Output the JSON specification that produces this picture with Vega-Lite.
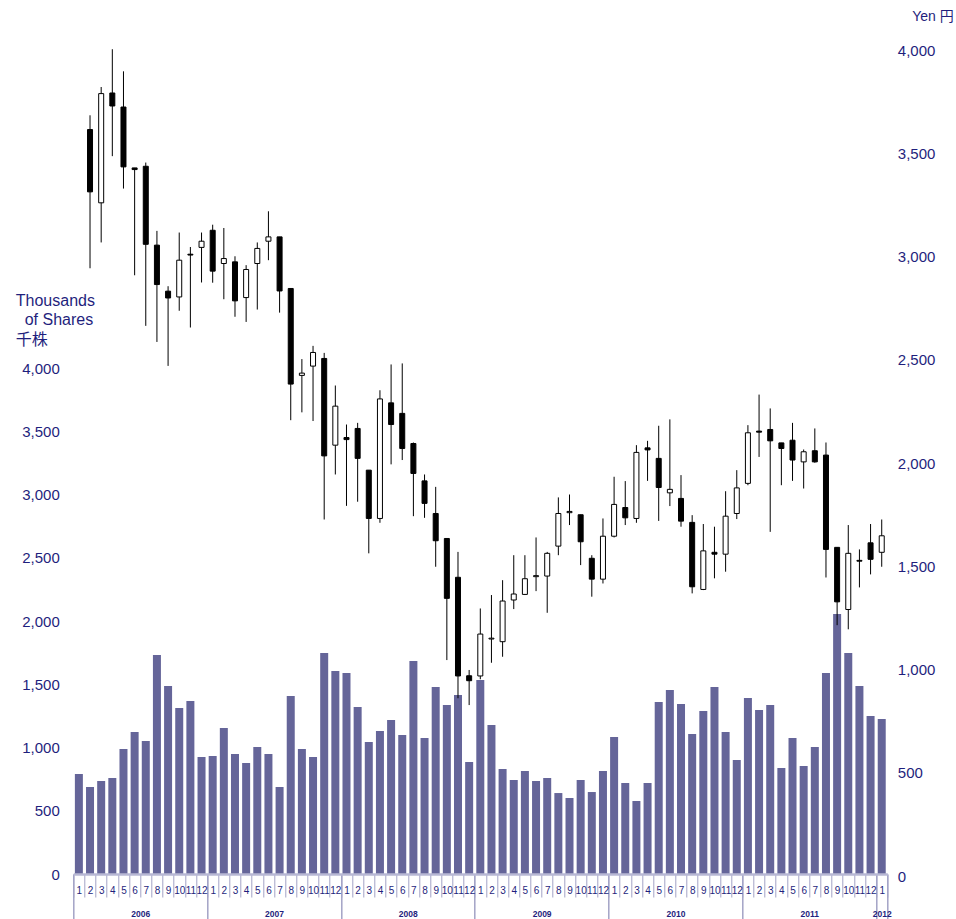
{
  "$schema": "https://vega.github.io/schema/vega-lite/v6.json",
  "width": 814,
  "height": 834,
  "autosize": {"type": "none"},
  "padding": {"left": 73.3, "top": 40, "right": 68.7, "bottom": 45},
  "background": "white",
  "config": {
    "view": {"stroke": null},
    "font": "Liberation Sans, Noto Sans CJK JP",
    "axis": {"grid": false}
  },
  "datasets": {
    "monthly": [
      {"month": "2006-01", "volume": 790},
      {"month": "2006-02", "volume": 688, "open": 3616, "high": 3685, "low": 2944, "close": 3314},
      {"month": "2006-03", "volume": 735, "open": 3261, "high": 3822, "low": 3069, "close": 3790},
      {"month": "2006-04", "volume": 759, "open": 3793, "high": 4005, "low": 3487, "close": 3730},
      {"month": "2006-05", "volume": 988, "open": 3725, "high": 3898, "low": 3330, "close": 3435},
      {"month": "2006-06", "volume": 1123, "open": 3430, "high": 3430, "low": 2910, "close": 3422},
      {"month": "2006-07", "volume": 1051, "open": 3438, "high": 3456, "low": 2665, "close": 3060},
      {"month": "2006-08", "volume": 1731, "open": 3056, "high": 3125, "low": 2587, "close": 2865},
      {"month": "2006-09", "volume": 1486, "open": 2833, "high": 2857, "low": 2471, "close": 2800},
      {"month": "2006-10", "volume": 1312, "open": 2805, "high": 3117, "low": 2738, "close": 2983},
      {"month": "2006-11", "volume": 1368, "open": 3012, "high": 3047, "low": 2657, "close": 3008},
      {"month": "2006-12", "volume": 925, "open": 3045, "high": 3117, "low": 2875, "close": 3075},
      {"month": "2007-01", "volume": 933, "open": 3128, "high": 3155, "low": 2874, "close": 2930},
      {"month": "2007-02", "volume": 1154, "open": 2967, "high": 3139, "low": 2794, "close": 2991},
      {"month": "2007-03", "volume": 949, "open": 2975, "high": 3002, "low": 2709, "close": 2786},
      {"month": "2007-04", "volume": 877, "open": 2802, "high": 2959, "low": 2684, "close": 2938},
      {"month": "2007-05", "volume": 1004, "open": 2967, "high": 3069, "low": 2744, "close": 3040},
      {"month": "2007-06", "volume": 949, "open": 3075, "high": 3220, "low": 2983, "close": 3096},
      {"month": "2007-07", "volume": 688, "open": 3096, "high": 3096, "low": 2729, "close": 2834},
      {"month": "2007-08", "volume": 1407, "open": 2846, "high": 2846, "low": 2208, "close": 2383},
      {"month": "2007-09", "volume": 988, "open": 2425, "high": 2504, "low": 2246, "close": 2436},
      {"month": "2007-10", "volume": 925, "open": 2470, "high": 2568, "low": 2204, "close": 2536},
      {"month": "2007-11", "volume": 1747, "open": 2507, "high": 2534, "low": 1727, "close": 2035},
      {"month": "2007-12", "volume": 1605, "open": 2087, "high": 2376, "low": 1945, "close": 2276},
      {"month": "2008-01", "volume": 1589, "open": 2124, "high": 2187, "low": 1793, "close": 2114},
      {"month": "2008-02", "volume": 1320, "open": 2168, "high": 2195, "low": 1813, "close": 2023},
      {"month": "2008-03", "volume": 1043, "open": 1966, "high": 1966, "low": 1563, "close": 1732},
      {"month": "2008-04", "volume": 1130, "open": 1732, "high": 2353, "low": 1711, "close": 2311},
      {"month": "2008-05", "volume": 1217, "open": 2292, "high": 2478, "low": 1994, "close": 2187},
      {"month": "2008-06", "volume": 1099, "open": 2241, "high": 2483, "low": 2015, "close": 2071},
      {"month": "2008-07", "volume": 1684, "open": 2095, "high": 2100, "low": 1743, "close": 1950},
      {"month": "2008-08", "volume": 1075, "open": 1914, "high": 1945, "low": 1735, "close": 1805},
      {"month": "2008-09", "volume": 1478, "open": 1756, "high": 1885, "low": 1498, "close": 1624},
      {"month": "2008-10", "volume": 1336, "open": 1635, "high": 1635, "low": 1046, "close": 1345},
      {"month": "2008-11", "volume": 1415, "open": 1447, "high": 1570, "low": 861, "close": 969},
      {"month": "2008-12", "volume": 885, "open": 970, "high": 998, "low": 828, "close": 946},
      {"month": "2009-01", "volume": 1534, "open": 969, "high": 1296, "low": 953, "close": 1172},
      {"month": "2009-02", "volume": 1178, "open": 1148, "high": 1361, "low": 1033, "close": 1152},
      {"month": "2009-03", "volume": 830, "open": 1135, "high": 1433, "low": 1062, "close": 1332},
      {"month": "2009-04", "volume": 743, "open": 1337, "high": 1554, "low": 1293, "close": 1366},
      {"month": "2009-05", "volume": 814, "open": 1364, "high": 1554, "low": 1361, "close": 1440},
      {"month": "2009-06", "volume": 735, "open": 1450, "high": 1640, "low": 1380, "close": 1455},
      {"month": "2009-07", "volume": 759, "open": 1453, "high": 1570, "low": 1275, "close": 1563},
      {"month": "2009-08", "volume": 640, "open": 1598, "high": 1834, "low": 1554, "close": 1756},
      {"month": "2009-09", "volume": 601, "open": 1760, "high": 1848, "low": 1700, "close": 1766},
      {"month": "2009-10", "volume": 743, "open": 1750, "high": 1750, "low": 1506, "close": 1619},
      {"month": "2009-11", "volume": 648, "open": 1539, "high": 1554, "low": 1353, "close": 1438},
      {"month": "2009-12", "volume": 814, "open": 1438, "high": 1732, "low": 1417, "close": 1646},
      {"month": "2010-01", "volume": 1083, "open": 1646, "high": 1934, "low": 1640, "close": 1800},
      {"month": "2010-02", "volume": 719, "open": 1785, "high": 1913, "low": 1700, "close": 1735},
      {"month": "2010-03", "volume": 577, "open": 1732, "high": 2087, "low": 1711, "close": 2052},
      {"month": "2010-04", "volume": 719, "open": 2074, "high": 2108, "low": 1914, "close": 2064},
      {"month": "2010-05", "volume": 1360, "open": 2023, "high": 2181, "low": 1720, "close": 1882},
      {"month": "2010-06", "volume": 1455, "open": 1856, "high": 2212, "low": 1792, "close": 1873},
      {"month": "2010-07", "volume": 1344, "open": 1829, "high": 1942, "low": 1692, "close": 1719},
      {"month": "2010-08", "volume": 1107, "open": 1713, "high": 1748, "low": 1369, "close": 1401},
      {"month": "2010-09", "volume": 1289, "open": 1388, "high": 1705, "low": 1385, "close": 1575},
      {"month": "2010-10", "volume": 1478, "open": 1568, "high": 1692, "low": 1442, "close": 1559},
      {"month": "2010-11", "volume": 1123, "open": 1559, "high": 1864, "low": 1474, "close": 1743},
      {"month": "2010-12", "volume": 901, "open": 1756, "high": 1966, "low": 1729, "close": 1880},
      {"month": "2011-01", "volume": 1391, "open": 1902, "high": 2184, "low": 1893, "close": 2147},
      {"month": "2011-02", "volume": 1296, "open": 2155, "high": 2332, "low": 2030, "close": 2150},
      {"month": "2011-03", "volume": 1336, "open": 2163, "high": 2265, "low": 1667, "close": 2108},
      {"month": "2011-04", "volume": 838, "open": 2098, "high": 2098, "low": 1893, "close": 2071},
      {"month": "2011-05", "volume": 1075, "open": 2111, "high": 2195, "low": 1914, "close": 2015},
      {"month": "2011-06", "volume": 854, "open": 2006, "high": 2066, "low": 1877, "close": 2055},
      {"month": "2011-07", "volume": 1004, "open": 2060, "high": 2168, "low": 2002, "close": 2006},
      {"month": "2011-08", "volume": 1589, "open": 2039, "high": 2100, "low": 1446, "close": 1582},
      {"month": "2011-09", "volume": 2055, "open": 1592, "high": 1592, "low": 1215, "close": 1328},
      {"month": "2011-10", "volume": 1747, "open": 1291, "high": 1700, "low": 1195, "close": 1563},
      {"month": "2011-11", "volume": 1486, "open": 1529, "high": 1582, "low": 1398, "close": 1525},
      {"month": "2011-12", "volume": 1249, "open": 1614, "high": 1705, "low": 1461, "close": 1534},
      {"month": "2012-01", "volume": 1225, "open": 1568, "high": 1727, "low": 1498, "close": 1648}
    ],
    "years": [
      {"b": 0}, {"b": 12}, {"b": 24}, {"b": 36}, {"b": 48}, {"b": 60}, {"b": 72}, {"b": 73}
    ]
  },
  "layer": [
    {
      "data": {"name": "monthly"},
      "layer": [
        {
          "mark": {"type": "bar", "width": 8, "color": "#656599"},
          "encoding": {
            "x": {
              "field": "month",
              "type": "ordinal",
              "title": null,
              "scale": {"paddingInner": 0, "paddingOuter": 0},
              "axis": {
                "orient": "bottom",
                "title": null,
                "labelExpr": "isString(datum.value) ? '' + parseInt(slice(datum.value, 5)) : ''",
                "labelAngle": 0,
                "labelFontSize": 10,
                "labelColor": "#1f1f7d",
                "labelPadding": -12,
                "labelOverlap": false,
                "labelFlush": false,
                "tickBand": "extent",
                "tickSize": 23,
                "tickColor": "#a3a3c6",
                "tickWidth": 1,
                "domainColor": "#b8b8d4",
                "domainWidth": 2.5,
                "zindex": 1
              }
            },
            "y": {
              "field": "volume",
              "type": "quantitative",
              "title": ["Thousands", "\u200b\u00a0\u00a0of Shares", "千株"],
              "scale": {"domain": [0, 6593], "nice": false},
              "axis": {
                "orient": "left",
                "values": [0, 500, 1000, 1500, 2000, 2500, 3000, 3500, 4000],
                "format": ",d",
                "titleAngle": 0,
                "titleAlign": "left",
                "titleBaseline": "top",
                "titleX": -58,
                "titleY": 252,
                "titleFontSize": 16,
                "titleFontWeight": "normal",
                "titleLineHeight": 19.5,
                "titleColor": "#1f1f7d",
                "labelFontSize": 15,
                "labelColor": "#1f1f7d",
                "labelPadding": 14,
                "ticks": false,
                "domain": false
              }
            }
          }
        },
        {
          "layer": [
            {
              "mark": {"type": "rule", "color": "black", "strokeWidth": 1},
              "encoding": {
                "x": {"field": "month", "type": "ordinal", "title": null},
                "y": {
                  "field": "low",
                  "type": "quantitative",
                  "title": "Yen 円",
                  "scale": {"domain": [0, 4040], "range": [836, 2], "nice": false},
                  "axis": {
                    "orient": "right",
                    "values": [0, 500, 1000, 1500, 2000, 2500, 3000, 3500, 4000],
                    "format": ",d",
                    "titleAngle": 0,
                    "titleAlign": "right",
                    "titleBaseline": "middle",
                    "titleX": 66,
                    "titleY": -24,
                    "titleFontSize": 14,
                    "titleFontWeight": "normal",
                    "titleColor": "#1f1f7d",
                    "labelFontSize": 15,
                    "labelColor": "#1f1f7d",
                    "labelPadding": 10,
                    "ticks": false,
                    "domain": false
                  }
                },
                "y2": {"field": "high"}
              }
            },
            {
              "mark": {"type": "bar", "width": 5, "stroke": "black", "strokeWidth": 1},
              "encoding": {
                "x": {"field": "month", "type": "ordinal", "title": null},
                "y": {"field": "open", "type": "quantitative", "title": "Yen 円"},
                "y2": {"field": "close"},
                "fill": {
                  "condition": {"test": "datum.close >= datum.open", "value": "white"},
                  "value": "black"
                }
              }
            }
          ]
        }
      ],
      "resolve": {"scale": {"y": "independent"}}
    },
    {
      "data": {"name": "years"},
      "mark": {"type": "rule", "opacity": 0},
      "encoding": {
        "x": {
          "field": "b",
          "type": "quantitative",
          "scale": {"domain": [0, 73], "nice": false, "zero": false},
          "axis": {
            "orient": "bottom",
            "title": null,
            "values": [0, 12, 24, 36, 48, 60, 72, 73],
            "labels": false,
            "tickSize": 45,
            "tickColor": "#a3a3c6",
            "tickWidth": 1.5,
            "domain": false,
            "grid": false
          }
        }
      }
    },
    {
      "data": {"name": "years"},
      "mark": {"type": "rule", "opacity": 0},
      "encoding": {
        "x": {
          "field": "b",
          "type": "quantitative",
          "scale": {"domain": [0, 73], "nice": false, "zero": false},
          "axis": {
            "orient": "bottom",
            "title": null,
            "values": [6, 18, 30, 42, 54, 66, 72.5],
            "labelExpr": "datum.value > 72 ? '2012' : '' + (2006 + floor(datum.value / 12))",
            "labelFontSize": 8.5,
            "labelFontWeight": "bold",
            "labelColor": "#1f1f7d",
            "labelPadding": 35,
            "labelOverlap": false,
            "labelFlush": false,
            "ticks": false,
            "tickSize": 0,
            "domain": false,
            "grid": false
          }
        }
      }
    }
  ],
  "resolve": {"scale": {"x": "independent"}}
}
